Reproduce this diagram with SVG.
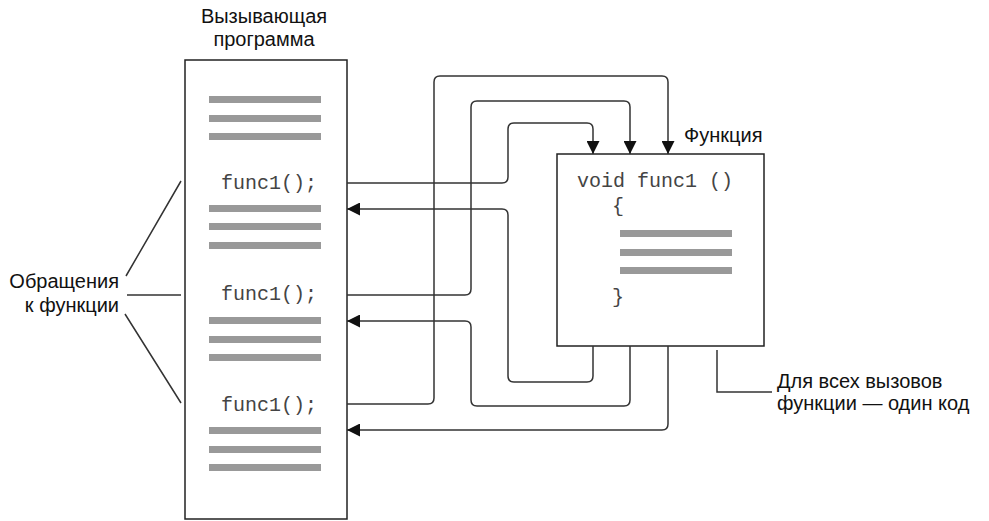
<svg xmlns="http://www.w3.org/2000/svg" width="989" height="521" viewBox="0 0 989 521">
<defs>
<style>
.box{fill:#fff;stroke:#222;stroke-width:1.5}
.bar{fill:#999}
.ln{fill:none;stroke:#333;stroke-width:1.5}
.arr{fill:none;stroke:#333;stroke-width:1.5;marker-end:url(#ah)}
.sans{font-family:"Liberation Sans",Arial,sans-serif;font-size:20px;fill:#111}
.mono{font-family:"Liberation Mono","Courier New",monospace;font-size:20px;fill:#444}
</style>
<marker id="ah" viewBox="0 0 13 13" refX="13" refY="6.5" markerWidth="13" markerHeight="13" markerUnits="userSpaceOnUse" orient="auto">
<path d="M0,0 L13,6.5 L0,13 z" fill="#111"/>
</marker>
</defs>
<rect width="989" height="521" fill="#fff"/>

<g id="caller">
<text class="sans" x="264" y="23" text-anchor="middle">Вызывающая</text>
<text class="sans" x="264" y="46" text-anchor="middle">программа</text>
<rect class="box" x="185" y="60" width="162" height="459"/>
<rect class="bar" x="209" y="96" width="112" height="7"/>
<rect class="bar" x="209" y="115" width="112" height="7"/>
<rect class="bar" x="209" y="133" width="112" height="7"/>
<text class="mono" x="221" y="189">func1();</text>
<rect class="bar" x="209" y="205" width="112" height="7"/>
<rect class="bar" x="209" y="223" width="112" height="7"/>
<rect class="bar" x="209" y="242" width="112" height="7"/>
<text class="mono" x="221" y="300">func1();</text>
<rect class="bar" x="209" y="317" width="112" height="7"/>
<rect class="bar" x="209" y="336" width="112" height="7"/>
<rect class="bar" x="209" y="354" width="112" height="7"/>
<text class="mono" x="221" y="411">func1();</text>
<rect class="bar" x="209" y="427" width="112" height="7"/>
<rect class="bar" x="209" y="446" width="112" height="7"/>
<rect class="bar" x="209" y="464" width="112" height="7"/>
</g>

<g id="function">
<text class="sans" x="684" y="142">Функция</text>
<rect class="box" x="557" y="154" width="207" height="192"/>
<text class="mono" x="577" y="187">void func1 ()</text>
<text class="mono" x="612" y="212">{</text>
<rect class="bar" x="620" y="230" width="112" height="7"/>
<rect class="bar" x="620" y="249" width="112" height="7"/>
<rect class="bar" x="620" y="267" width="112" height="7"/>
<text class="mono" x="612" y="303">}</text>
</g>

<g id="calls-label">
<text class="sans" x="119" y="288" text-anchor="end">Обращения</text>
<text class="sans" x="119" y="312" text-anchor="end">к функции</text>
<path class="ln" d="M126,276 L181,181 M127,295 H181 M125,314 L181,403"/>
</g>

<g id="note">
<path class="ln" d="M717,350 V392 H772"/>
<text class="sans" x="777" y="388">Для всех вызовов</text>
<text class="sans" x="777" y="410">функции — один код</text>
</g>

<g id="connectors">
<path class="arr" d="M347,183 H502 Q508,183 508,177 V129 Q508,123 514,123 H587 Q593,123 593,129 V154"/>
<path class="arr" d="M347,295 H465 Q471,295 471,289 V107 Q471,101 477,101 H624 Q630,101 630,107 V154"/>
<path class="arr" d="M347,404 H428 Q434,404 434,398 V82 Q434,76 440,76 H662 Q668,76 668,82 V154"/>
<path class="arr" d="M593,346 V376 Q593,382 587,382 H514 Q508,382 508,376 V215 Q508,209 502,209 H347"/>
<path class="arr" d="M630,346 V400 Q630,406 624,406 H477 Q471,406 471,400 V327 Q471,321 465,321 H347"/>
<path class="arr" d="M668,346 V424 Q668,430 662,430 H347"/>
</g>
</svg>
